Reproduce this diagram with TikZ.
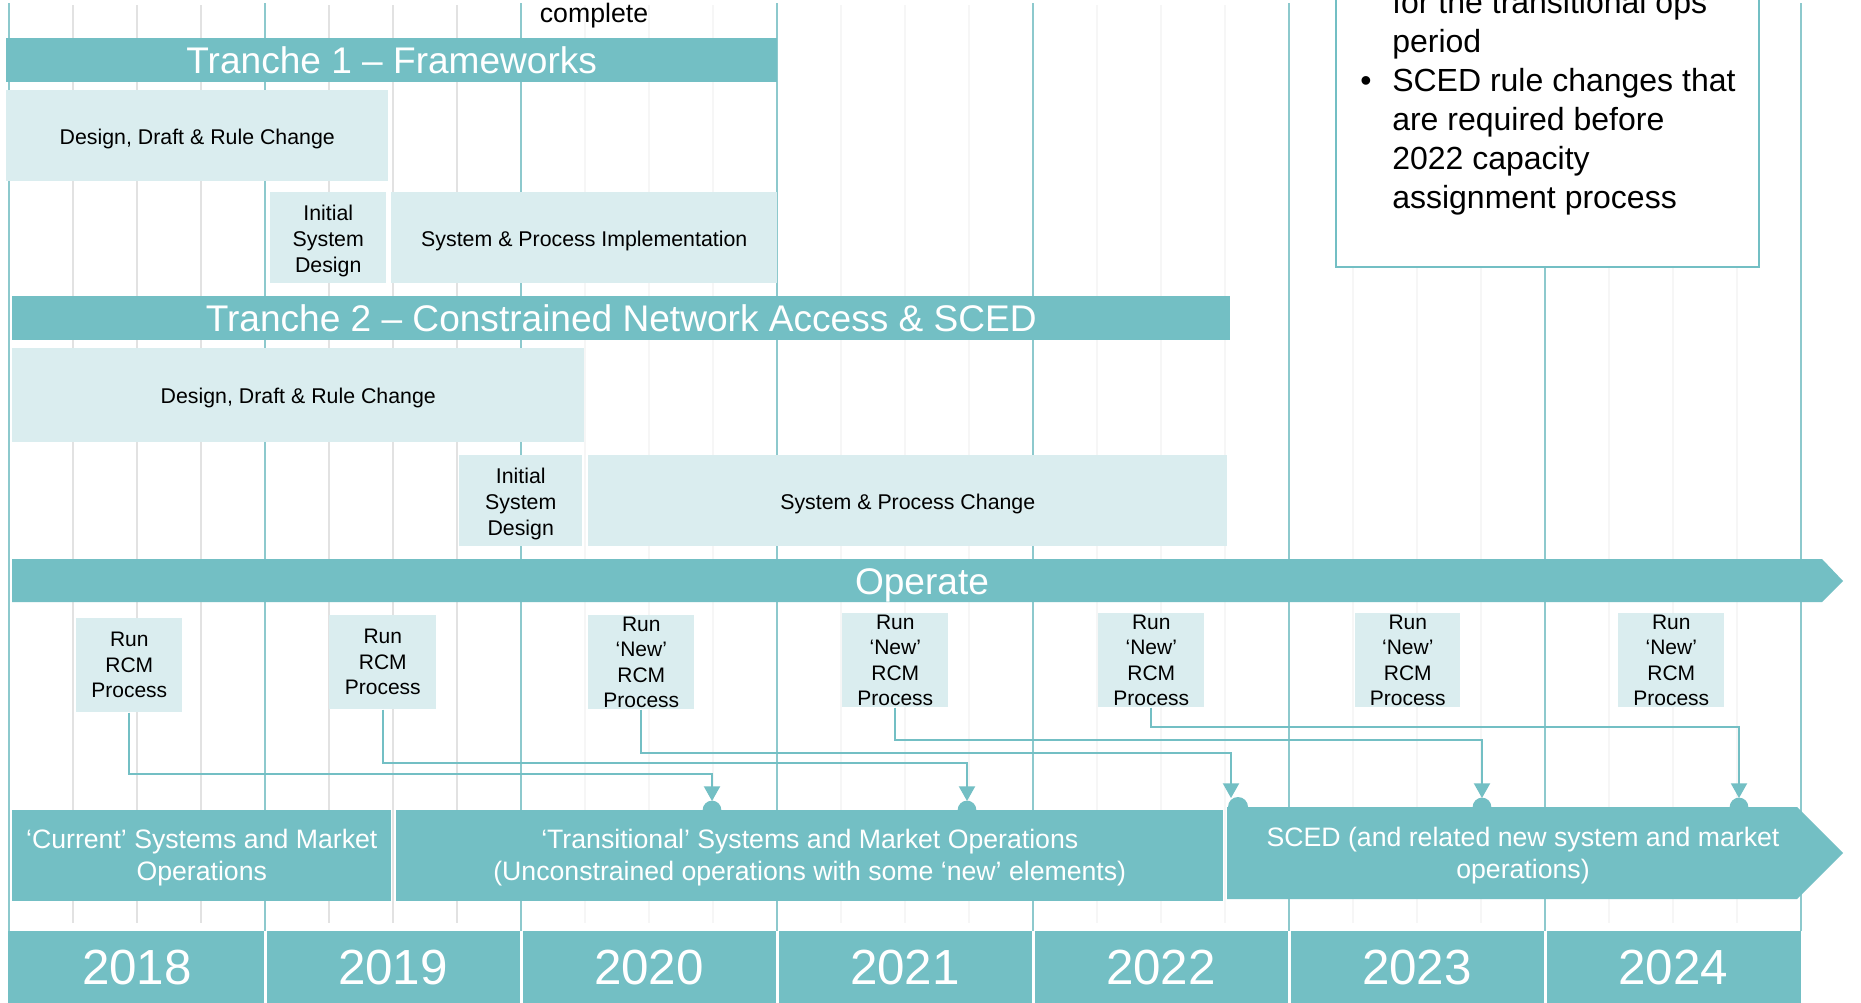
\documentclass[tikz,border=0pt]{standalone}
\usepackage{fontspec}
\setmainfont{Liberation Sans}
\usetikzlibrary{arrows.meta,calc}
\definecolor{teal1}{RGB}{115,191,196}
\definecolor{light1}{RGB}{218,237,239}
\definecolor{yline}{RGB}{141,201,205}
\definecolor{qgray}{RGB}{226,226,226}
\definecolor{qfaint}{RGB}{246,246,246}
\newcommand\fs[2]{\fontsize{#1}{#2}\selectfont}
\newcommand\pxbox[8]{\node[#2, anchor=north west, minimum width={(#5-#3)*0.75pt}, minimum height={(#6-#4)*0.75pt}] (#1) at (#3,#4) {};
  \node[#2text] (#1t) at ([yshift=-#7*0.75pt]#1.center) {#8};}
\begin{document}
\begin{tikzpicture}[x=0.75pt, y=-0.75pt,
  bar/.style={fill=teal1, inner sep=0pt},
  bartext/.style={text=white, inner sep=0pt, font=\fs{27.8}{33}},
  lbox/.style={fill=light1, inner sep=0pt},
  lboxtext/.style={text=black, inner sep=0pt, align=center, font=\fs{16}{19.5}},
  rbox/.style={fill=light1, inner sep=0pt},
  rboxtext/.style={align=center, font=\fs{15.75}{19.1}, inner sep=0pt},
  bbar/.style={fill=teal1, inner sep=0pt},
  bbartext/.style={text=white, align=center, font=\fs{20}{24}, inner sep=0pt},
  yeartext/.style={text=white, font=\fs{37}{40}, inner sep=0pt},
  note/.style={anchor=base west, font=\fs{24}{29}, inner sep=0pt},
  conn/.style={draw=teal1, line width=1.5pt, -{Triangle[width=12pt,length=11pt]}},
  yl/.style={draw=yline, line width=1.5pt},
  ql/.style={draw=qgray, line width=1.5pt},
  qf/.style={draw=qfaint, line width=1.5pt}]
\clip (0,0) rectangle (1861,1003);
\fill[white] (0,0) rectangle (1861,1003);
% grid lines
\foreach \k in {1,2,3,5,6,7} \draw[ql] ({9+64*\k},5) -- ({9+64*\k},923);
\foreach \k in {9,10,11,13,14,15,17,18,19,21,22,23,25,26,27} \draw[qf] ({9+64*\k},5) -- ({9+64*\k},923);
\foreach \k in {0,...,7} \draw[yl] ({9+256*\k},3) -- ({9+256*\k},931);
% note box (cut at top)
\draw[draw=teal1, line width=1.5pt, fill=white] (1336,-20) rectangle (1759,267);
\node[note] (n1) at (1392,13) {for the transitional ops};
\node[note] (n2) at (1392,52) {period};
\node[note] (nb) at (1360,91) {•};
\node[note] (n3) at (1392,91) {SCED rule changes that};
\node[note] (n4) at (1392,130) {are required before};
\node[note] (n5) at (1392,169) {2022 capacity};
\node[note] (n6) at (1392,208) {assignment process};
\node[anchor=base, font=\fs{20}{22}, inner sep=0pt] (cmp) at (594,22) {complete};
% Tranche 1
\pxbox{t1bar}{bar}{6}{38}{777}{82}{0}{Tranche 1 – Frameworks}
\pxbox{t1dd}{lbox}{6}{90}{388}{181}{3}{Design, Draft \& Rule Change}
\pxbox{t1isd}{lbox}{270}{192}{386}{283}{3}{Initial\\System\\Design}
\pxbox{t1spi}{lbox}{391}{192}{777}{283}{3}{System \& Process Implementation}
% Tranche 2
\pxbox{t2bar}{bar}{12}{296}{1230}{340}{0}{Tranche 2 – Constrained Network Access \& SCED}
\pxbox{t2dd}{lbox}{12}{348}{584}{442}{3}{Design, Draft \& Rule Change}
\pxbox{t2isd}{lbox}{459}{455}{582}{546}{3}{Initial\\System\\Design}
\pxbox{t2spc}{lbox}{588}{455}{1227}{546}{3}{System \& Process Change}
% Operate
\fill[teal1] (12,559) -- (1822,559) -- (1843,581) -- (1822,602) -- (12,602) -- cycle;
\node[bartext] (op) at (922,585) {Operate};
% Run boxes
\pxbox{r1}{rbox}{76}{618}{182}{712}{0}{Run\\RCM\\Process}
\pxbox{r2}{rbox}{329}{615}{436}{709}{0}{Run\\RCM\\Process}
\pxbox{r3}{rbox}{588}{615}{694}{709}{0}{Run\\‘New’\\RCM\\Process}
\pxbox{r4}{rbox}{842}{613}{948}{707}{0}{Run\\‘New’\\RCM\\Process}
\pxbox{r5}{rbox}{1098}{613}{1204}{707}{0}{Run\\‘New’\\RCM\\Process}
\pxbox{r6}{rbox}{1355}{613}{1460}{707}{0}{Run\\‘New’\\RCM\\Process}
\pxbox{r7}{rbox}{1618}{613}{1724}{707}{0}{Run\\‘New’\\RCM\\Process}
% bottom bars
\pxbox{cur}{bbar}{12}{810}{391}{901}{2}{‘Current’ Systems and Market\\Operations}
\pxbox{tra}{bbar}{396}{810}{1223}{901}{2}{‘Transitional’ Systems and Market Operations\\(Unconstrained operations with some ‘new’ elements)}
\fill[teal1] (1227,807) -- (1797,807) -- (1843,853) -- (1797,899) -- (1227,899) -- cycle;
\node[bbartext] (sced) at (1523,856) {SCED (and related new system and market\\operations)};
% connector targets
\coordinate (a1) at (712,801);
\coordinate (a2) at (967,801);
\coordinate (a3) at (1231,798);
\coordinate (a4) at (1482,798);
\coordinate (a5) at (1739,798);
\fill[teal1] (712,810) circle (7pt);
\fill[teal1] (967,810) circle (7pt);
\fill[teal1] (1238,807) circle (7.5pt);
\fill[teal1] (1482,807) circle (7pt);
\fill[teal1] (1739,807) circle (7pt);
\draw[conn] (r1.south) -- (r1.south |- 0,774) -| (a1);
\draw[conn] (r2.south) -- (r2.south |- 0,763) -| (a2);
\draw[conn] (r3.south) -- (r3.south |- 0,753) -| (a3);
\draw[conn] (r4.south) -- (r4.south |- 0,740) -| (a4);
\draw[conn] (r5.south) -- (r5.south |- 0,727) -| (a5);
% year bar
\fill[teal1] (8,931) rectangle (1801,1003);
\foreach \k in {1,...,6} \draw[white, line width=2.25pt] ({9+256*\k},931) -- ({9+256*\k},1003);
\foreach \yr [count=\i from 0] in {2018,...,2024} \node[yeartext] (y\yr) at ({137+256*\i},968) {\yr};
\end{tikzpicture}
\end{document}
